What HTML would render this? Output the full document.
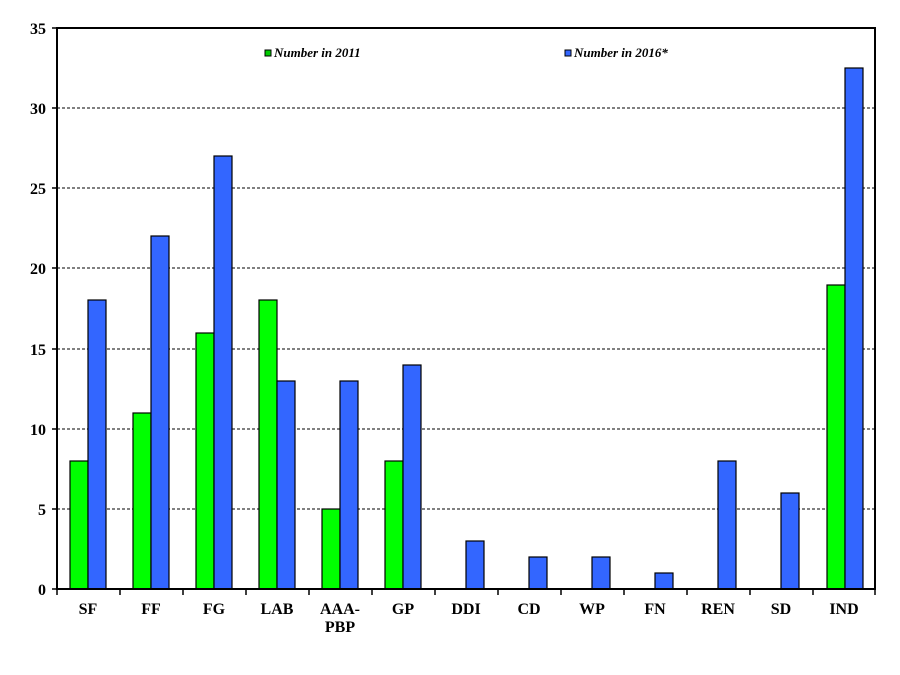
<!DOCTYPE html>
<html><head><meta charset="utf-8"><style>body{margin:0;background:#fff}svg{display:block}</style></head><body>
<svg width="900" height="675" xmlns="http://www.w3.org/2000/svg" font-family="Liberation Serif, serif">
<rect width="900" height="675" fill="#fff"/>
<g stroke="#000" stroke-width="1" stroke-dasharray="3,2">
<line x1="57" y1="108" x2="875" y2="108"/>
<line x1="57" y1="188" x2="875" y2="188"/>
<line x1="57" y1="268" x2="875" y2="268"/>
<line x1="57" y1="349" x2="875" y2="349"/>
<line x1="57" y1="429" x2="875" y2="429"/>
<line x1="57" y1="509" x2="875" y2="509"/>
</g>
<g stroke="#000" stroke-width="1.2">
<rect x="70" y="461" width="18" height="128" fill="#00ff00"/><rect x="88" y="300" width="18" height="289" fill="#3366ff"/>
<rect x="133" y="413" width="18" height="176" fill="#00ff00"/><rect x="151" y="236" width="18" height="353" fill="#3366ff"/>
<rect x="196" y="333" width="18" height="256" fill="#00ff00"/><rect x="214" y="156" width="18" height="433" fill="#3366ff"/>
<rect x="259" y="300" width="18" height="289" fill="#00ff00"/><rect x="277" y="381" width="18" height="208" fill="#3366ff"/>
<rect x="322" y="509" width="18" height="80" fill="#00ff00"/><rect x="340" y="381" width="18" height="208" fill="#3366ff"/>
<rect x="385" y="461" width="18" height="128" fill="#00ff00"/><rect x="403" y="365" width="18" height="224" fill="#3366ff"/>
<rect x="466" y="541" width="18" height="48" fill="#3366ff"/>
<rect x="529" y="557" width="18" height="32" fill="#3366ff"/>
<rect x="592" y="557" width="18" height="32" fill="#3366ff"/>
<rect x="655" y="573" width="18" height="16" fill="#3366ff"/>
<rect x="718" y="461" width="18" height="128" fill="#3366ff"/>
<rect x="781" y="493" width="18" height="96" fill="#3366ff"/>
<rect x="827" y="285" width="18" height="304" fill="#00ff00"/><rect x="845" y="68" width="18" height="521" fill="#3366ff"/>
</g>
<rect x="57" y="28" width="818" height="561" fill="none" stroke="#000" stroke-width="2"/>
<g stroke="#000" stroke-width="1.5">
<line x1="52" y1="28" x2="57" y2="28"/><line x1="52" y1="108" x2="57" y2="108"/><line x1="52" y1="188" x2="57" y2="188"/><line x1="52" y1="268" x2="57" y2="268"/><line x1="52" y1="349" x2="57" y2="349"/><line x1="52" y1="429" x2="57" y2="429"/><line x1="52" y1="509" x2="57" y2="509"/><line x1="52" y1="589" x2="57" y2="589"/>
<line x1="57" y1="589" x2="57" y2="595"/><line x1="120" y1="589" x2="120" y2="595"/><line x1="183" y1="589" x2="183" y2="595"/><line x1="246" y1="589" x2="246" y2="595"/><line x1="309" y1="589" x2="309" y2="595"/><line x1="372" y1="589" x2="372" y2="595"/><line x1="435" y1="589" x2="435" y2="595"/><line x1="498" y1="589" x2="498" y2="595"/><line x1="561" y1="589" x2="561" y2="595"/><line x1="624" y1="589" x2="624" y2="595"/><line x1="687" y1="589" x2="687" y2="595"/><line x1="750" y1="589" x2="750" y2="595"/><line x1="813" y1="589" x2="813" y2="595"/><line x1="875" y1="589" x2="875" y2="595"/>
</g>
<g font-size="16" font-weight="bold" text-anchor="end">
<text x="46" y="34">35</text><text x="46" y="114">30</text><text x="46" y="194">25</text><text x="46" y="274">20</text><text x="46" y="355">15</text><text x="46" y="435">10</text><text x="46" y="515">5</text><text x="46" y="595">0</text>
</g>
<g font-size="16" font-weight="bold" text-anchor="middle">
<text x="88" y="614">SF</text><text x="151" y="614">FF</text><text x="214" y="614">FG</text><text x="277" y="614">LAB</text><text x="340" y="614">AAA-</text><text x="340" y="632">PBP</text><text x="403" y="614">GP</text><text x="466" y="614">DDI</text><text x="529" y="614">CD</text><text x="592" y="614">WP</text><text x="655" y="614">FN</text><text x="718" y="614">REN</text><text x="781" y="614">SD</text><text x="844" y="614">IND</text>
</g>
<rect x="265" y="50" width="6" height="6" fill="#00cc00" stroke="#000" stroke-width="1"/>
<text x="274" y="57" font-size="13" font-weight="bold" font-style="italic">Number in 2011</text>
<rect x="565" y="50" width="6" height="6" fill="#3366ff" stroke="#000" stroke-width="1"/>
<text x="574" y="57" font-size="13" font-weight="bold" font-style="italic">Number in 2016*</text>
</svg>
</body></html>
